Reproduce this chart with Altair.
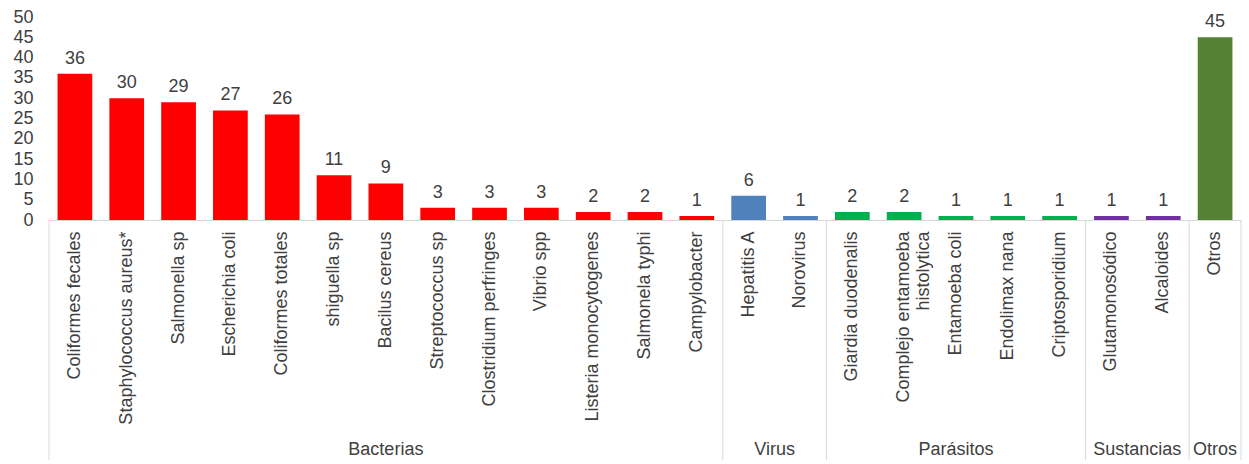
import altair as alt
import pandas as pd

names = [
    "Coliformes fecales", "Staphylococcus aureus*", "Salmonella sp", "Escherichia coli",
    "Coliformes totales", "shiguella sp", "Bacilus cereus", "Streptococcus sp",
    "Clostridium perfringes", "Vibrio spp", "Listeria monocytogenes", "Salmonela typhi",
    "Campylobacter", "Hepatitis A", "Norovirus", "Giardia duodenalis",
    "Complejo entamoeba|histolytica", "Entamoeba coli", "Endolimax nana", "Criptosporidium",
    "Glutamonosódico", "Alcaloides", "Otros",
]
values = [36, 30, 29, 27, 26, 11, 9, 3, 3, 3, 2, 2, 1, 6, 1, 2, 2, 1, 1, 1, 1, 1, 45]
groups = ["Bacterias"] * 13 + ["Virus"] * 2 + ["Parásitos"] * 5 + ["Sustancias"] * 2 + ["Otros"]

group_names = ["Bacterias", "Virus", "Parásitos", "Sustancias", "Otros"]
group_colors = ["#FF0000", "#4F81BD", "#00B050", "#7030A0", "#548235"]
group_sizes = [13, 2, 5, 2, 1]
y_ticks = [0, 5, 10, 15, 20, 25, 30, 35, 40, 45, 50]

color_map = dict(zip(group_names, group_colors))
df = pd.DataFrame({
    "name": names,
    "value": values,
    "group": groups,
    "color": [color_map[g] for g in groups],
})

# group boundaries and centers in category-index units
bounds = [0]
for s in group_sizes:
    bounds.append(bounds[-1] + s)
centers = [(bounds[i] + bounds[i + 1]) / 2 for i in range(len(group_sizes))]
sep_df = pd.DataFrame({"pos": bounds})
grp_df = pd.DataFrame({"group": group_names, "center": centers})

W, H = 1192, 203
n = len(names)
TXT = "#404040"

xscale = alt.Scale(paddingInner=0.33, paddingOuter=0.165)
yscale = alt.Scale(domain=[0, 50], nice=False)

xenc = alt.X(
    "name:N", sort=None, title=None, scale=xscale,
    axis=alt.Axis(
        labelAngle=270, labelFontSize=18, labelColor=TXT, labelPadding=11,
        ticks=False, domainColor="#d9d9d9", labelLimit=400,
        labelExpr="split(datum.label, '|')", labelLineHeight=20,
        labelOverlap=False,
    ),
)
yenc = alt.Y(
    "value:Q", title=None, scale=yscale,
    axis=alt.Axis(
        values=y_ticks, grid=False, domain=False, ticks=False,
        labelFontSize=18, labelColor=TXT, labelPadding=16,
        labelOverlap=False, labelFlush=False,
    ),
)

bars = alt.Chart(df).mark_bar().encode(
    x=xenc, y=yenc, color=alt.Color("color:N", scale=None)
)
labels = alt.Chart(df).mark_text(
    baseline="alphabetic", dy=-10, fontSize=18, color=TXT
).encode(x=xenc, y=yenc, text="value:Q")

qx = alt.Scale(domain=[0, n], nice=False, zero=False)
seps = alt.Chart(sep_df).mark_rule(color="#d9d9d9", strokeWidth=1).encode(
    x=alt.X("pos:Q", scale=qx, axis=None),
    y=alt.value(H), y2=alt.value(H + 240),
)
glabels = alt.Chart(grp_df).mark_text(
    baseline="middle", fontSize=18, color=TXT
).encode(
    x=alt.X("center:Q", scale=qx, axis=None),
    y=alt.value(H + 230),
    text="group:N",
)

chart = alt.layer(
    alt.layer(bars, labels),
    alt.layer(seps, glabels),
).resolve_scale(x="independent").properties(
    width=W, height=H,
    autosize=alt.AutoSizeParams(type="none"),
    padding={"left": 49, "top": 17, "right": 8, "bottom": 244},
).configure(font="Liberation Sans").configure_view(stroke=None)

chart.save("out.html", embed_options={"renderer": "svg", "actions": False})
